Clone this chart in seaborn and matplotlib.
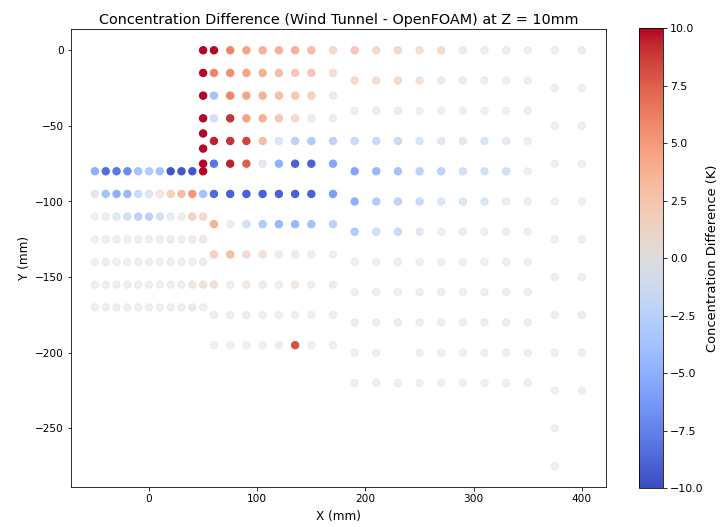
import numpy as np
import pandas as pd
import matplotlib
matplotlib.use("Agg")
import matplotlib.pyplot as plt
import seaborn as sns

# ---------------- data (mm, difference in K) ----------------
# column at x = 50 above the inlet
col50_y = [0, -15, -30, -45, -55, -65, -75]
col50_vals = [10, 10, 10, 10, 10, 10, 10]

# inlet region
inlet_x = [-50, -40, -30, -20, -10, 0, 10, 20, 30, 40, 50]
inlet_y = [-80, -95, -110, -125, -140, -155, -170]
inlet_vals = [
    [-5, -8.5, -8, -7, -4, -3.5, -4, -9.5, -9.5, -9.5, 10],
    [-1, -4, -5, -4.5, -2.5, -1.5, 1, 2.5, 3.5, 5, -4],
    [0, 0.2, -1, -2, -3, -3, -2, -0.5, 0.3, 2.5, 2],
    [0, 0, 0.2, 0, 0, 0, 0.2, 0.5, 0, 0.5, 1],
    [0, 0.2, 0, 0, 0, 0, 0, 0.2, 0, 0, 0.5],
    [0, 0, 0, 0.2, 0, 0, 0, 0, 0, 1, 1.5],
    [0, 0, 0.2, 0, 0, 0, 0, 0, 0, 0.5, 0],
]

# middle region
mid_x = [60, 75, 90, 105, 120, 135, 150, 170]
mid_y = [0, -15, -30, -45, -60, -75, -95, -115, -135, -155, -175, -195]
mid_vals = [
    [10, 6, 4.5, 4, 4, 4, 3.5, 2],
    [6, 5.5, 4.5, 4, 3.5, 3, 3, 1.5],
    [-4, 6, 4.5, 4, 3.5, 3, 2.5, 0.5],
    [-2, 9, 4.5, 4, 3, 2, 0.5, -0.3],
    [9.5, 9, 8.5, 3.5, -1.5, -3, -3.5, -3],
    [-8, 9.5, 7.5, -1, -5, -9, -9, -5.5],
    [-8.5, -9, -9, -9, -9, -9, -9, -6],
    [4, 0.3, -2, -3.5, -4.5, -4.5, -4, -3],
    [2.5, 3.5, 2, 1.5, 0.5, 0.5, 0, 0],
    [1.5, 0, 1, 0.5, 0, 1, 0, 0.5],
    [0.3, 0, 0.2, 0, 0, 0, 0, 0],
    [0, 0, 0, 0, 0.3, 8, 0, 0],
]

# right region
right_x = [190, 210, 230, 250, 270, 290, 310, 330, 350]
right_y = [0, -20, -40, -60, -80, -100, -120, -140, -160, -180, -200, -220]
right_vals = [
    [3, 2, 2, 1.5, 2, 0.5, 0.3, 0.2, 0],
    [2, 1.5, 2, 1.5, 0.5, 0.3, 0, 0, 0],
    [0, -0.5, -0.5, 0, 0, 0, 0, 0, 0],
    [-2.5, -2.5, -2.5, -1.5, -1, -1, -1.5, -1, 0],
    [-5.5, -4.5, -4, -3, -3, -2, -2, -2, 0],
    [-5, -3.5, -3, -2.5, -1.5, -1.5, -1.5, -0.5, 0],
    [-3.5, -2, -2.5, -1, 0, -0.3, 0, -0.3, 0],
    [0, 0, 0, 0, 0, 0, 0, 0, 0],
    [0, 0, 0, 0, 0, 0, 0, 0, 0],
    [0.3, 0.3, 0.3, 0.3, 0.3, 0.3, 0.3, 0.3, 0.3],
    [0, 0, np.nan, 0, 0, 0, 0, 0, 0],
    [0, 0, 0, 0, 0, 0, 0, 0, 0],
]

# far right columns
far_x = [375, 400]
far_y = [0, -25, -50, -75, -100, -125, -150, -175, -200, -225, -250, -275]
far_vals = [
    [0, 0.3], [0, 0], [0, 0], [0, 0], [0, 0], [0, 0],
    [0, 0], [0, 0.5], [0, 0], [0, 0], [0, np.nan], [0, np.nan],
]

# ---------------- build table ----------------
rows = []
for y, v in zip(col50_y, col50_vals):
    rows.append((50, y, v))
for grid_x, grid_y, grid_v in [(inlet_x, inlet_y, inlet_vals),
                               (mid_x, mid_y, mid_vals),
                               (right_x, right_y, right_vals),
                               (far_x, far_y, far_vals)]:
    for y, line in zip(grid_y, grid_v):
        for x, v in zip(grid_x, line):
            rows.append((x, y, v))
df = pd.DataFrame(rows, columns=["X", "Y", "diff"]).dropna().reset_index(drop=True)

# ---------------- plot ----------------
fig = plt.figure(figsize=(10, 7.32), dpi=72)
ax = fig.add_axes([0.098, 0.076, 0.744, 0.868])
cax = fig.add_axes([0.888, 0.074, 0.0325, 0.872])

norm = matplotlib.colors.Normalize(vmin=-10, vmax=10)
sns.scatterplot(data=df, x="X", y="Y", hue="diff", palette="coolwarm",
                hue_norm=norm, s=52, edgecolor="face", linewidth=1.2,
                legend=False, ax=ax)
alphas = np.clip(0.42 + np.abs(df["diff"].to_numpy()) / 8.0, 0, 1)
ax.collections[0].set_alpha(alphas)

ax.set_title("Concentration Difference (Wind Tunnel - OpenFOAM) at Z = 10mm", fontsize=14.4)
ax.set_xlabel("X (mm)", fontsize=12, labelpad=6)
ax.set_ylabel("Y (mm)", fontsize=12)
ax.tick_params(labelsize=10.5)

sm = matplotlib.cm.ScalarMappable(norm=norm, cmap="coolwarm")
cb = fig.colorbar(sm, cax=cax)
cb.set_label("Concentration Difference (K)", fontsize=13, labelpad=3)
cb.ax.tick_params(labelsize=11)

fig.savefig("out.png", dpi=72)
